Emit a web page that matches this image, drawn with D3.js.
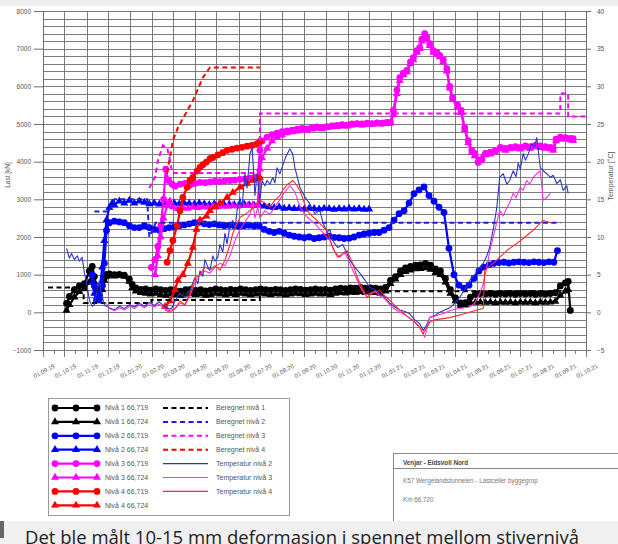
<!DOCTYPE html>
<html>
<head>
<meta charset="utf-8">
<script src="https://cdn.jsdelivr.net/npm/d3@7/dist/d3.min.js"></script>
<style>
body { margin:0; background:#fff; }
svg { display:block; font-family:"Liberation Sans", Arial, sans-serif; }
</style>
</head>
<body>
<svg id="chart" width="618" height="544"></svg>
<script>
var width = 618;
var height = 544;

// measured load, kN
var niva1_719 = [["04.10.19",240],["08.10.19",420],["15.10.19",600],["22.10.19",700],["29.10.19",760],["05.11.19",1100],["09.11.19",1220],["12.11.19",950],["15.11.19",620],["19.11.19",480],["23.11.19",720],["26.11.19",920],["29.11.19",1010],["03.12.19",1020],["10.12.19",1000],["17.12.19",1010],["24.12.19",990],["31.12.19",880],["04.01.20",740],["09.01.20",650],["16.01.20",610],["23.01.20",620],["30.01.20",590],["06.02.20",620],["13.02.20",600],["20.02.20",580],["27.02.20",600],["05.03.20",570],["12.03.20",560],["19.03.20",600],["26.03.20",610],["02.04.20",580],["09.04.20",600],["16.04.20",570],["23.04.20",590],["30.04.20",620],["07.05.20",600],["14.05.20",580],["21.05.20",610],["28.05.20",590],["04.06.20",620],["11.06.20",600],["18.06.20",580],["25.06.20",600],["02.07.20",620],["09.07.20",600],["16.07.20",590],["23.07.20",610],["30.07.20",600],["06.08.20",580],["13.08.20",600],["20.08.20",620],["27.08.20",610],["03.09.20",590],["10.09.20",600],["17.09.20",620],["24.09.20",600],["01.10.20",610],["08.10.20",590],["15.10.20",620],["22.10.20",640],["29.10.20",630],["05.11.20",650],["12.11.20",640],["19.11.20",660],["26.11.20",640],["03.12.20",650],["10.12.20",640],["17.12.20",620],["24.12.20",660],["31.12.20",850],["07.01.21",950],["14.01.21",1100],["21.01.21",1180],["28.01.21",1220],["04.02.21",1250],["11.02.21",1260],["18.02.21",1300],["25.02.21",1250],["04.03.21",1150],["11.03.21",1100],["18.03.21",900],["25.03.21",600],["01.04.21",380],["08.04.21",250],["15.04.21",260],["22.04.21",400],["29.04.21",480],["06.05.21",500],["13.05.21",490],["20.05.21",500],["27.05.21",480],["03.06.21",500],["10.06.21",490],["17.06.21",500],["24.06.21",480],["01.07.21",500],["08.07.21",490],["15.07.21",500],["22.07.21",480],["29.07.21",500],["05.08.21",490],["12.08.21",500],["19.08.21",520],["26.08.21",700],["02.09.21",780],["06.09.21",820],["09.09.21",50]];

var niva1_724 = [["04.10.19",50],["08.10.19",200],["15.10.19",400],["22.10.19",550],["29.10.19",620],["05.11.19",800],["09.11.19",1000],["12.11.19",800],["15.11.19",550],["19.11.19",450],["23.11.19",600],["26.11.19",850],["29.11.19",950],["03.12.19",980],["10.12.19",960],["17.12.19",980],["24.12.19",950],["31.12.19",820],["04.01.20",650],["09.01.20",560],["16.01.20",520],["23.01.20",500],["30.01.20",480],["06.02.20",500],["13.02.20",470],["20.02.20",450],["27.02.20",480],["05.03.20",460],["12.03.20",440],["19.03.20",480],["26.03.20",490],["02.04.20",470],["09.04.20",480],["16.04.20",450],["23.04.20",470],["30.04.20",500],["07.05.20",480],["14.05.20",460],["21.05.20",490],["28.05.20",470],["04.06.20",500],["11.06.20",480],["18.06.20",460],["25.06.20",480],["02.07.20",500],["09.07.20",480],["16.07.20",470],["23.07.20",490],["30.07.20",480],["06.08.20",460],["13.08.20",480],["20.08.20",500],["27.08.20",490],["03.09.20",470],["10.09.20",480],["17.09.20",500],["24.09.20",480],["01.10.20",490],["08.10.20",470],["15.10.20",500],["22.10.20",520],["29.10.20",510],["05.11.20",530],["12.11.20",520],["19.11.20",540],["26.11.20",520],["03.12.20",530],["10.12.20",520],["17.12.20",500],["24.12.20",560],["31.12.20",760],["07.01.21",880],["14.01.21",1000],["21.01.21",1080],["28.01.21",1120],["04.02.21",1150],["11.02.21",1160],["18.02.21",1180],["25.02.21",1140],["04.03.21",1050],["11.03.21",1000],["18.03.21",800],["25.03.21",500],["01.04.21",300],["08.04.21",180],["15.04.21",200],["22.04.21",250],["29.04.21",260],["06.05.21",270],["13.05.21",260],["20.05.21",270],["27.05.21",250],["03.06.21",270],["10.06.21",260],["17.06.21",270],["24.06.21",250],["01.07.21",270],["08.07.21",260],["15.07.21",270],["22.07.21",250],["29.07.21",270],["05.08.21",260],["12.08.21",270],["19.08.21",290],["26.08.21",450],["02.09.21",560],["06.09.21",600]];

var niva2_719 = [["09.11.19",1000],["12.11.19",700],["15.11.19",330],["19.11.19",350],["23.11.19",700],["26.11.19",1300],["29.11.19",2170],["03.12.19",2380],["10.12.19",2420],["17.12.19",2400],["24.12.19",2380],["31.12.19",2300],["07.01.20",2250],["14.01.20",2250],["21.01.20",2300],["28.01.20",2250],["04.02.20",2200],["11.02.20",2180],["18.02.20",2220],["25.02.20",2250],["03.03.20",2260],["10.03.20",2300],["17.03.20",2320],["24.03.20",2350],["31.03.20",2380],["07.04.20",2390],["14.04.20",2350],["21.04.20",2330],["28.04.20",2350],["05.05.20",2320],["12.05.20",2300],["19.05.20",2310],["26.05.20",2300],["02.06.20",2280],["09.06.20",2300],["16.06.20",2310],["23.06.20",2290],["30.06.20",2300],["07.07.20",2200],["14.07.20",2150],["21.07.20",2120],["28.07.20",2150],["04.08.20",2100],["11.08.20",2050],["18.08.20",2020],["25.08.20",2000],["01.09.20",1980],["08.09.20",2000],["15.09.20",1960],["22.09.20",1980],["29.09.20",2000],["06.10.20",2020],["13.10.20",1990],["20.10.20",1980],["27.10.20",1960],["03.11.20",1970],["10.11.20",2000],["17.11.20",2050],["24.11.20",2080],["01.12.20",2100],["08.12.20",2120],["15.12.20",2120],["22.12.20",2180],["29.12.20",2250],["05.01.21",2450],["12.01.21",2620],["19.01.21",2700],["26.01.21",2900],["02.02.21",3150],["09.02.21",3250],["16.02.21",3330],["23.02.21",3100],["02.03.21",2950],["09.03.21",2790],["16.03.21",2650],["23.03.21",1700],["30.03.21",1000],["06.04.21",720],["13.04.21",640],["20.04.21",720],["27.04.21",900],["04.05.21",1100],["11.05.21",1200],["18.05.21",1260],["25.05.21",1300],["01.06.21",1320],["08.06.21",1330],["15.06.21",1310],["22.06.21",1330],["29.06.21",1340],["06.07.21",1330],["13.07.21",1320],["20.07.21",1340],["27.07.21",1330],["03.08.21",1320],["10.08.21",1340],["17.08.21",1330],["22.08.21",1640]];

var niva2_724 = [["09.11.19",800],["12.11.19",500],["15.11.19",300],["19.11.19",500],["23.11.19",1200],["26.11.19",1900],["29.11.19",2450],["03.12.19",2780],["07.12.19",2900],["10.12.19",2850],["17.12.19",2950],["24.12.19",2900],["31.12.19",2970],["07.01.20",2900],["14.01.20",2950],["21.01.20",2920],["28.01.20",2880],["04.02.20",2900],["11.02.20",2870],["18.02.20",2900],["25.02.20",2920],["03.03.20",2900],["10.03.20",2880],["17.03.20",2900],["24.03.20",2890],["31.03.20",2870],["07.04.20",2900],["14.04.20",2880],["21.04.20",2860],["28.04.20",2880],["05.05.20",2870],["12.05.20",2850],["19.05.20",2870],["26.05.20",2860],["02.06.20",2850],["09.06.20",2870],["16.06.20",2850],["23.06.20",2840],["30.06.20",2860],["07.07.20",2820],["14.07.20",2800],["21.07.20",2780],["28.07.20",2800],["04.08.20",2760],["11.08.20",2770],["18.08.20",2750],["25.08.20",2760],["01.09.20",2740],["08.09.20",2760],["15.09.20",2750],["22.09.20",2740],["29.09.20",2760],["06.10.20",2750],["13.10.20",2730],["20.10.20",2750],["27.10.20",2740],["03.11.20",2760],["10.11.20",2740],["17.11.20",2750],["24.11.20",2730],["01.12.20",2740]];

var niva3_719 = [["31.01.20",1190],["05.02.20",1400],["09.02.20",1750],["13.02.20",2300],["17.02.20",3000],["20.02.20",3800],["24.02.20",3500],["29.02.20",3400],["04.03.20",3350],["11.03.20",3400],["18.03.20",3420],["25.03.20",3380],["01.04.20",3420],["08.04.20",3450],["15.04.20",3440],["22.04.20",3460],["29.04.20",3480],["06.05.20",3470],["13.05.20",3490],["20.05.20",3500],["27.05.20",3510],["03.06.20",3530],["10.06.20",3540],["17.06.20",3560],["24.06.20",3580],["28.06.20",3600],["01.07.20",4300],["04.07.20",4550],["11.07.20",4650],["18.07.20",4720],["25.07.20",4760],["01.08.20",4800],["08.08.20",4820],["15.08.20",4840],["22.08.20",4860],["29.08.20",4880],["05.09.20",4870],["12.09.20",4900],["19.09.20",4920],["26.09.20",4900],["03.10.20",4930],["10.10.20",4950],["17.10.20",4960],["24.10.20",4980],["31.10.20",4970],["07.11.20",5000],["14.11.20",5010],["21.11.20",5000],["28.11.20",5020],["05.12.20",5010],["12.12.20",5030],["19.12.20",5020],["26.12.20",5040],["31.12.20",5040],["04.01.21",5360],["09.01.21",5900],["13.01.21",6230],["18.01.21",6350],["23.01.21",6420],["28.01.21",6650],["01.02.21",6760],["06.02.21",6950],["10.02.21",7030],["13.02.21",7250],["17.02.21",7400],["20.02.21",7300],["24.02.21",7130],["01.03.21",6950],["06.03.21",6900],["10.03.21",6820],["15.03.21",6700],["20.03.21",6470],["24.03.21",6000],["28.03.21",5700],["04.04.21",5500],["09.04.21",5360],["14.04.21",4900],["19.04.21",4560],["24.04.21",4300],["28.04.21",4220],["03.05.21",3980],["08.05.21",4050],["13.05.21",4220],["20.05.21",4250],["27.05.21",4300],["03.06.21",4380],["10.06.21",4350],["17.06.21",4380],["24.06.21",4400],["01.07.21",4380],["08.07.21",4420],["15.07.21",4400],["22.07.21",4430],["29.07.21",4420],["05.08.21",4400],["12.08.21",4380],["16.08.21",4350],["20.08.21",4600],["26.08.21",4650],["02.09.21",4640],["09.09.21",4620],["13.09.21",4610]];

var niva3_724 = [["05.02.20",1000],["09.02.20",1500],["13.02.20",2000],["17.02.20",2500],["22.02.20",2850],["26.02.20",2950],["01.03.20",2800],["08.03.20",2750],["15.03.20",2780],["22.03.20",2760],["29.03.20",2800],["05.04.20",2780],["12.04.20",2800],["19.04.20",2790],["26.04.20",2810],["03.05.20",2800],["10.05.20",2820],["17.05.20",2810],["24.05.20",2830],["31.05.20",2820],["07.06.20",2840],["14.06.20",2830],["21.06.20",2850],["28.06.20",2850],["01.07.20",3800],["04.07.20",4100],["11.07.20",4350],["18.07.20",4550],["25.07.20",4650],["01.08.20",4700],["08.08.20",4760],["15.08.20",4790],["22.08.20",4810],["29.08.20",4830],["05.09.20",4830],["12.09.20",4860],["19.09.20",4880],["26.09.20",4870],["03.10.20",4900],["10.10.20",4920],["17.10.20",4930],["24.10.20",4950],["31.10.20",4940],["07.11.20",4970],["14.11.20",4980],["21.11.20",4970],["28.11.20",4990],["05.12.20",4990],["12.12.20",5000],["19.12.20",5000],["26.12.20",5010],["31.12.20",5020],["04.01.21",5250],["09.01.21",5800],["13.01.21",6150],["18.01.21",6300],["23.01.21",6380],["28.01.21",6600],["01.02.21",6700],["06.02.21",6900],["10.02.21",7000],["13.02.21",7200],["17.02.21",7350],["20.02.21",7250],["24.02.21",7080],["01.03.21",6900],["06.03.21",6850],["10.03.21",6780],["15.03.21",6650],["20.03.21",6400],["24.03.21",5950],["28.03.21",5650],["04.04.21",5450],["09.04.21",5300],["14.04.21",4850],["19.04.21",4500],["24.04.21",4250],["28.04.21",4150],["03.05.21",4050],["08.05.21",4100],["13.05.21",4180],["20.05.21",4200],["27.05.21",4260],["03.06.21",4330],["10.06.21",4300],["17.06.21",4340],["24.06.21",4350],["01.07.21",4330],["08.07.21",4380],["15.07.21",4350],["22.07.21",4390],["29.07.21",4370],["05.08.21",4350],["12.08.21",4340],["16.08.21",4300],["20.08.21",4550],["26.08.21",4600],["02.09.21",4600],["09.09.21",4580],["13.09.21",4560]];

var niva4_719 = [["22.02.20",1330],["26.02.20",1640],["01.03.20",1910],["07.03.20",2300],["11.03.20",2700],["15.03.20",3050],["21.03.20",3320],["25.03.20",3500],["29.03.20",3580],["04.04.20",3750],["08.04.20",3850],["12.04.20",3920],["17.04.20",3990],["22.04.20",4080],["26.04.20",4110],["03.05.20",4180],["10.05.20",4240],["16.05.20",4300],["23.05.20",4330],["30.05.20",4360],["06.06.20",4380],["13.06.20",4410],["20.06.20",4430],["27.06.20",4480],["01.07.20",4540]];

var niva4_724 = [["19.02.20",150],["26.02.20",300],["04.03.20",600],["08.03.20",850],["15.03.20",1000],["22.03.20",1300],["29.03.20",1720],["03.04.20",2200],["08.04.20",2450],["17.04.20",2550],["22.04.20",2700],["29.04.20",2800],["06.05.20",2890],["16.05.20",3050],["24.05.20",3180],["03.06.20",3320],["13.06.20",3420],["21.06.20",3500],["28.06.20",3550],["01.07.20",3580]];

// calculated load, kN
var beregnet1 = [["08.09.19",660],["28.10.19",660],["28.10.19",250],["31.01.20",250],["31.01.20",330],["01.07.20",330],["01.07.20",560],["02.09.21",560]];
var beregnet2 = [["12.11.19",2680],["03.12.19",2680],["10.12.19",3000],["25.01.20",3000],["28.01.20",2000],["06.02.20",2380],["26.08.21",2380]];
var beregnet3 = [["28.01.20",3300],["05.02.20",3580],["09.02.20",4030],["16.02.20",4430],["22.02.20",4380],["26.02.20",4030],["29.02.20",3700],["01.07.20",3700],["01.07.20",5280],["26.08.21",5280],["26.08.21",5810],["06.09.21",5810],["06.09.21",5200],["02.10.21",5200]];
var beregnet4 = [["22.02.20",3700],["01.03.20",4560],["08.03.20",4900],["29.03.20",5620],["12.04.20",6230],["22.04.20",6500],["01.07.20",6500]];

// temperature, deg C
var temp2 = [["04.10.19",8.5],["08.10.19",7.2],["11.10.19",7.8],["15.10.19",7.0],["19.10.19",7.5],["22.10.19",6.8],["26.10.19",7.3],["29.10.19",5.2],["01.11.19",4.0],["05.11.19",1.6],["09.11.19",0.8],["12.11.19",1.0],["16.11.19",3.0],["19.11.19",4.2],["23.11.19",2.0],["26.11.19",1.0],["29.11.19",0.8],["03.12.19",0.6],["10.12.19",0.3],["17.12.19",0.8],["24.12.19",0.5],["31.12.19",1.0],["07.01.20",0.7],["14.01.20",1.2],["21.01.20",0.8],["28.01.20",1.3],["04.02.20",0.9],["11.02.20",1.4],["18.02.20",0.8],["25.02.20",0.4],["29.02.20",0.6],["04.03.20",1.5],["11.03.20",2.5],["18.03.20",2.0],["25.03.20",3.0],["01.04.20",4.6],["05.04.20",3.8],["08.04.20",5.5],["12.04.20",4.8],["15.04.20",7.0],["19.04.20",6.0],["22.04.20",5.6],["26.04.20",7.5],["29.04.20",6.8],["03.05.20",7.3],["06.05.20",9.0],["10.05.20",8.0],["13.05.20",10.5],["16.05.20",9.1],["20.05.20",11.5],["24.05.20",12.2],["27.05.20",11.0],["30.05.20",13.5],["03.06.20",15.2],["06.06.20",14.0],["10.06.20",18.4],["13.06.20",16.5],["17.06.20",21.0],["20.06.20",21.9],["22.06.20",19.0],["24.06.20",15.5],["27.06.20",18.4],["01.07.20",14.9],["04.07.20",17.5],["08.07.20",16.8],["11.07.20",17.5],["15.07.20",17.0],["19.07.20",17.9],["22.07.20",17.2],["25.07.20",19.2],["29.07.20",18.4],["02.08.20",19.5],["06.08.20",20.6],["12.08.20",21.7],["16.08.20",21.0],["19.08.20",19.2],["26.08.20",16.6],["02.09.20",15.3],["09.09.20",14.4],["16.09.20",13.1],["23.09.20",13.5],["27.09.20",12.0],["03.10.20",10.6],["07.10.20",11.0],["11.10.20",9.5],["18.10.20",8.6],["25.10.20",9.0],["31.10.20",7.8],["04.11.20",6.9],["11.11.20",6.0],["18.11.20",5.2],["25.11.20",4.3],["02.12.20",3.3],["09.12.20",3.0],["16.12.20",2.5],["23.12.20",2.0],["30.12.20",1.2],["06.01.21",0.7],["13.01.21",0.3],["20.01.21",0.1],["27.01.21",-0.2],["03.02.21",-1.0],["10.02.21",-1.5],["15.02.21",-2.4],["19.02.21",-1.8],["24.02.21",-0.7],["03.03.21",-0.4],["10.03.21",0.0],["17.03.21",0.3],["24.03.21",0.6],["31.03.21",1.2],["07.04.21",2.0],["14.04.21",3.0],["21.04.21",4.2],["28.04.21",5.0],["05.05.21",6.0],["10.05.21",6.5],["15.05.21",7.5],["19.05.21",8.6],["24.05.21",11.0],["29.05.21",13.9],["02.06.21",17.9],["07.06.21",18.4],["12.06.21",17.0],["16.06.21",17.5],["21.06.21",18.8],["25.06.21",18.0],["28.06.21",19.8],["01.07.21",19.0],["05.07.21",21.1],["08.07.21",20.2],["12.07.21",21.0],["17.07.21",22.4],["21.07.21",22.0],["24.07.21",23.2],["29.07.21",19.2],["02.08.21",18.8],["07.08.21",18.4],["12.08.21",17.9],["16.08.21",18.2],["21.08.21",17.1],["26.08.21",17.6],["30.08.21",16.2],["04.09.21",16.8],["06.09.21",15.8]];

var temp3 = [["29.11.19",1.2],["03.12.19",0.5],["10.12.19",0.2],["17.12.19",0.6],["24.12.19",0.3],["31.12.19",0.8],["07.01.20",0.5],["14.01.20",1.0],["21.01.20",0.6],["28.01.20",1.0],["04.02.20",0.7],["11.02.20",1.1],["18.02.20",0.5],["25.02.20",0.2],["04.03.20",0.5],["11.03.20",1.2],["18.03.20",1.0],["25.03.20",2.2],["01.04.20",4.0],["08.04.20",5.0],["15.04.20",5.5],["22.04.20",5.2],["29.04.20",6.0],["06.05.20",6.5],["13.05.20",6.2],["20.05.20",7.5],["27.05.20",9.5],["03.06.20",11.0],["10.06.20",12.0],["17.06.20",13.0],["21.06.20",14.5],["24.06.20",12.5],["28.06.20",14.0],["01.07.20",12.5],["08.07.20",13.5],["15.07.20",13.0],["22.07.20",14.0],["29.07.20",15.0],["05.08.20",16.0],["12.08.20",16.8],["19.08.20",16.0],["26.08.20",14.0],["02.09.20",13.0],["09.09.20",12.3],["16.09.20",11.8],["23.09.20",11.0],["30.09.20",10.3],["07.10.20",9.5],["14.10.20",8.0],["21.10.20",7.3],["28.10.20",8.0],["04.11.20",6.5],["11.11.20",5.0],["18.11.20",3.5],["25.11.20",2.3],["02.12.20",2.5],["09.12.20",2.8],["16.12.20",2.2],["23.12.20",1.8],["30.12.20",1.0],["06.01.21",0.4],["13.01.21",0.0],["20.01.21",-0.3],["27.01.21",-0.8],["03.02.21",-1.3],["10.02.21",-2.0],["17.02.21",-3.3],["20.02.21",-2.2],["24.02.21",-0.7],["03.03.21",-0.5],["10.03.21",-0.3],["17.03.21",-0.1],["24.03.21",0.2],["31.03.21",0.4],["07.04.21",0.5],["14.04.21",0.6],["21.04.21",0.7],["28.04.21",1.2],["05.05.21",2.5],["10.05.21",3.8],["15.05.21",6.0],["20.05.21",8.5],["24.05.21",10.0],["02.06.21",13.5],["07.06.21",12.8],["12.06.21",13.9],["16.06.21",14.5],["21.06.21",15.8],["25.06.21",15.2],["01.07.21",16.6],["05.07.21",16.2],["10.07.21",17.5],["14.07.21",17.0],["19.07.21",17.9],["24.07.21",18.4],["29.07.21",18.8],["02.08.21",14.9],["07.08.21",15.2],["12.08.21",15.8]];

var temp4 = [["19.02.20",0.3],["26.02.20",0.0],["04.03.20",0.5],["11.03.20",1.5],["18.03.20",1.0],["25.03.20",2.5],["01.04.20",4.6],["08.04.20",5.0],["15.04.20",6.0],["22.04.20",5.6],["29.04.20",6.2],["06.05.20",5.6],["13.05.20",6.9],["20.05.20",9.0],["24.05.20",10.5],["03.06.20",12.6],["10.06.20",13.0],["17.06.20",13.5],["24.06.20",14.0],["01.07.20",14.9],["08.07.20",14.5],["15.07.20",14.0],["22.07.20",14.9],["29.07.20",15.5],["02.08.20",16.2],["09.08.20",17.0],["16.08.20",17.5],["19.08.20",17.2],["26.08.20",16.2],["05.09.20",13.5],["12.09.20",12.8],["19.09.20",12.2],["26.09.20",11.5],["03.10.20",10.9],["11.10.20",8.6],["18.10.20",7.3],["25.10.20",7.8],["31.10.20",8.2],["08.11.20",6.5],["15.11.20",4.5],["28.11.20",2.0],["05.12.20",2.5],["16.12.20",2.9],["23.12.20",2.2],["30.12.20",1.6],["13.01.21",0.3],["23.01.21",-0.5],["01.02.21",-1.1],["10.02.21",-2.0],["15.02.21",-2.8],["24.02.21",-1.3],["03.03.21",-1.0],["24.03.21",-0.7],["17.04.21",-0.1],["01.05.21",0.3],["10.05.21",0.5],["12.05.21",5.6],["24.05.21",6.5],["12.06.21",8.2],["01.07.21",9.5],["19.07.21",10.9],["02.08.21",12.2],["16.08.21",11.8]];

var loadTicks = [-1000,0,1000,2000,3000,4000,5000,6000,7000,8000];
var tempTicks = [-5,0,5,10,15,20,25,30,35,40];

var infoLines = ["Venjar - Eidsvoll Nord", "K57 Wergelandstunnelen - Lastceller byggegrop", "Km 66,720"];
var caption = "Det ble målt 10-15 mm deformasjon i spennet mellom stivernivå";

var parse = d3.timeParse("%d.%m.%y");
var fmt = d3.timeFormat("%d.%m.%y");
var gridColor = "#6e6e6e";
var textColor = "#555";

var xScale = d3.scaleTime().domain([parse("01.09.19"), parse("01.10.21")]).range([43, 586]);
var yScale = d3.scaleLinear().domain([-1000, 8000]).range([350, 11]);
var tScale = d3.scaleLinear().domain([-5, 40]).range([350, 11]);

var svg = d3.select("#chart");

// page strip at the top
svg.append("rect").attr("x",0).attr("y",0).attr("width",width).attr("height",6).attr("fill","#efefef");

// grid
var months = d3.timeMonth.range(parse("01.09.19"), parse("02.10.21"));
var gridG = svg.append("g");
gridG.selectAll("line.h")
    .data(d3.range(-1000, 8001, 200))
    .enter().append("line")
    .attr("x1", 43).attr("x2", 586)
    .attr("y1", function(d){ return Math.round(yScale(d)) + 0.5; })
    .attr("y2", function(d){ return Math.round(yScale(d)) + 0.5; })
    .attr("stroke", gridColor).attr("stroke-width", 0.9);
gridG.selectAll("line.v")
    .data(months)
    .enter().append("line")
    .attr("x1", function(d){ return Math.round(xScale(d)) + 0.5; })
    .attr("x2", function(d){ return Math.round(xScale(d)) + 0.5; })
    .attr("y1", 11).attr("y2", 357)
    .attr("stroke", gridColor).attr("stroke-width", 0.9);
gridG.selectAll("line.m")
    .data(months.slice(0, -1))
    .enter().append("line")
    .attr("x1", function(d){ return Math.round(xScale(d3.timeDay.offset(d, 15))) + 0.5; })
    .attr("x2", function(d){ return Math.round(xScale(d3.timeDay.offset(d, 15))) + 0.5; })
    .attr("y1", 350).attr("y2", 354)
    .attr("stroke", gridColor).attr("stroke-width", 0.9);

// left axis
var yAxis = d3.axisLeft(yScale).tickValues(loadTicks).tickFormat(d3.format("d")).tickSize(9).tickPadding(3);
var yG = svg.append("g").attr("transform", "translate(43,0)").call(yAxis);
yG.select(".domain").attr("stroke", gridColor);
yG.selectAll(".tick line").attr("stroke", gridColor);
yG.selectAll("text").attr("fill", textColor).attr("font-size", "6.5px");

// right axis
var tAxis = d3.axisRight(tScale).tickValues(tempTicks).tickFormat(d3.format("d")).tickSize(5).tickPadding(6);
var tG = svg.append("g").attr("transform", "translate(586,0)").call(tAxis);
tG.select(".domain").attr("stroke", gridColor);
tG.selectAll(".tick line").attr("stroke", gridColor);
tG.selectAll("text").attr("fill", textColor).attr("font-size", "6.5px");

// x labels
svg.append("g").selectAll("text")
    .data(months)
    .enter().append("text")
    .attr("transform", function(d){ return "translate(" + (xScale(d) + 1) + ",371) rotate(-28)"; })
    .attr("text-anchor", "middle")
    .attr("dy", "0.35em")
    .attr("font-size", "6px")
    .attr("fill", textColor)
    .text(function(d){ return fmt(d); });

// axis titles
svg.append("text")
    .attr("transform", "translate(10,175) rotate(-90)")
    .attr("text-anchor", "middle")
    .attr("font-size", "6.5px").attr("fill", textColor)
    .text("Last [kN]");
svg.append("text")
    .attr("transform", "translate(613,176) rotate(-90)")
    .attr("text-anchor", "middle")
    .attr("font-size", "7px").attr("fill", textColor)
    .text("Temperatur [°C]");

// series
var loadSeries = [
    {data: niva1_719, color: "#000000", marker: "circle", label: "Nivå 1 66,719"},
    {data: niva1_724, color: "#000000", marker: "triangle", label: "Nivå 1 66,724"},
    {data: niva2_719, color: "#0000ff", marker: "circle", label: "Nivå 2 66,719"},
    {data: niva2_724, color: "#0000ff", marker: "triangle", label: "Nivå 2 66,724"},
    {data: niva3_719, color: "#ff00ff", marker: "circle", label: "Nivå 3 66,719"},
    {data: niva3_724, color: "#ff00ff", marker: "triangle", label: "Nivå 3 66,724"},
    {data: niva4_719, color: "#ff0000", marker: "circle", label: "Nivå 4 66,719"},
    {data: niva4_724, color: "#ff0000", marker: "triangle", label: "Nivå 4 66,724"}
];
var calcSeries = [
    {data: beregnet1, color: "#000000", label: "Beregnet nivå 1"},
    {data: beregnet2, color: "#1f1fd0", label: "Beregnet nivå 2"},
    {data: beregnet3, color: "#ff00ff", label: "Beregnet nivå 3"},
    {data: beregnet4, color: "#ff0000", label: "Beregnet nivå 4"}
];
var tempSeries = [
    {data: temp2, color: "#2a35c8", label: "Temperatur nivå 2"},
    {data: temp3, color: "#ff33dd", label: "Temperatur nivå 3"},
    {data: temp4, color: "#ff2a2a", label: "Temperatur nivå 4"}
];

var loadLine = d3.line()
    .x(function(d){ return xScale(parse(d[0])); })
    .y(function(d){ return yScale(d[1]); });
var tempLine = d3.line()
    .x(function(d){ return xScale(parse(d[0])); })
    .y(function(d){ return tScale(d[1]); });

var triangle = d3.symbol().type(d3.symbolTriangle).size(28);

function drawMarkers(g, pts, s, px, py) {
    if (s.marker == "circle") {
        g.selectAll("circle").data(pts).enter().append("circle")
            .attr("cx", px).attr("cy", py).attr("r", 3.4)
            .attr("fill", s.color);
    } else {
        g.selectAll("path.mk").data(pts).enter().append("path")
            .attr("class", "mk")
            .attr("d", triangle)
            .attr("transform", function(d){ return "translate(" + px(d) + "," + py(d) + ")"; })
            .attr("fill", s.color);
    }
}

loadSeries.forEach(function(s) {
    var g = svg.append("g");
    g.append("path").datum(s.data)
        .attr("d", loadLine)
        .attr("fill", "none").attr("stroke", s.color).attr("stroke-width", 2.2)
        .attr("stroke-linejoin", "round");
    drawMarkers(g, s.data, s,
        function(d){ return xScale(parse(d[0])); },
        function(d){ return yScale(d[1]); });
});

calcSeries.forEach(function(s) {
    svg.append("path").datum(s.data)
        .attr("d", loadLine)
        .attr("fill", "none").attr("stroke", s.color).attr("stroke-width", 2)
        .attr("stroke-dasharray", "5,3.5");
});

tempSeries.forEach(function(s) {
    svg.append("path").datum(s.data)
        .attr("d", tempLine)
        .attr("fill", "none").attr("stroke", s.color).attr("stroke-width", 1.1)
        .attr("stroke-linejoin", "round");
});

// legend
var legend = svg.append("g");
legend.append("rect").attr("x", 48.5).attr("y", 398.5).attr("width", 241).attr("height", 117)
    .attr("fill", "#fff").attr("stroke", "#9a9a9a");
var rowY = function(i){ return 408 + i * 13.9; };
loadSeries.forEach(function(s, i) {
    var g = legend.append("g");
    var y = rowY(i);
    g.append("line").attr("x1", 55).attr("x2", 97).attr("y1", y).attr("y2", y)
        .attr("stroke", s.color).attr("stroke-width", 2.2);
    drawMarkers(g, [55, 76, 97], s, function(d){ return d; }, function(){ return y; });
    g.append("text").attr("x", 105).attr("y", y).attr("dy", "0.35em")
        .attr("font-size", "7px").attr("fill", textColor).text(s.label);
});
calcSeries.concat(tempSeries).forEach(function(s, i) {
    var y = rowY(i);
    var isTemp = i >= calcSeries.length;
    legend.append("line").attr("x1", 163).attr("x2", 208).attr("y1", y).attr("y2", y)
        .attr("stroke", s.color).attr("stroke-width", isTemp ? 1.2 : 2)
        .attr("stroke-dasharray", isTemp ? null : "5,3.5");
    legend.append("text").attr("x", 216).attr("y", y).attr("dy", "0.35em")
        .attr("font-size", "7px").attr("fill", textColor).text(s.label);
});

// info box
var info = svg.append("g");
info.append("rect").attr("x", 393.5).attr("y", 453.5).attr("width", 240).attr("height", 80)
    .attr("fill", "#fff").attr("stroke", "#8a8a8a");
info.append("line").attr("x1", 393.5).attr("x2", 618).attr("y1", 468.5).attr("y2", 468.5)
    .attr("stroke", "#8a8a8a");
info.selectAll("text").data(infoLines).enter().append("text")
    .attr("x", 403)
    .attr("y", function(d, i){ return [465, 483, 502][i]; })
    .attr("font-size", "6.3px")
    .attr("font-weight", function(d, i){ return i == 0 ? "bold" : "normal"; })
    .attr("fill", function(d, i){ return i == 0 ? "#444" : "#777"; })
    .text(function(d){ return d; });

// caption strip below the picture
svg.append("rect").attr("x",0).attr("y",521).attr("width",width).attr("height",23).attr("fill","#f0f0f0");
svg.append("rect").attr("x",0).attr("y",521).attr("width",4).attr("height",17).attr("fill","#666");
svg.append("text")
    .attr("x", 25).attr("y", 544)
    .attr("font-family", "'Open Sans', 'Noto Sans', sans-serif")
    .attr("font-size", "18.5px").attr("fill", "#222")
    .text(caption);
</script>
</body>
</html>
